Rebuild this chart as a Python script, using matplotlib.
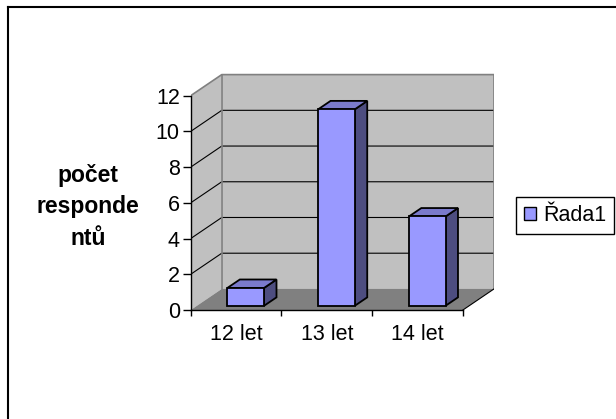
import matplotlib
matplotlib.use("Agg")
import matplotlib.pyplot as plt
from matplotlib.patches import Polygon, Patch
from matplotlib.lines import Line2D

plt.rcParams['font.family'] = ['Liberation Sans', 'DejaVu Sans']

# ---- data ----
categories = ['12 let', '13 let', '14 let']
values = [1, 11, 5]
yticks = [0, 2, 4, 6, 8, 10, 12]
series_name = 'Řada1'
y_label = 'počet\nresponde\nntů'

# ---- style / geometry constants ----
W, H = 616, 419
DEPTH_X, DEPTH_Y = 0.3424, 1.18     # oblique depth offset (category units, value units)
BAR_L, BAR_R = 0.336, 0.74          # bar extent inside a category
Z0, Z1 = 0.2, 0.6                   # bar depth extent (fraction of floor depth)
FRONT, TOP, SIDE = '#9999FF', '#7A7ACC', '#4D4D80'
WALL, FLOOR, WALL_EDGE = '#C0C0C0', '#808080', '#808080'

ncat = len(categories)
ymax = yticks[-1]


def P(x, y, z):
    return (x + z * DEPTH_X, y + z * DEPTH_Y)


fig = plt.figure(figsize=(W / 100, H / 100), dpi=100)
ax = fig.add_axes([190.7 / W, (H - 310) / H, (494 - 190.7) / W, (310 - 73) / H])
ax.set_xlim(0, ncat + DEPTH_X)
ax.set_ylim(0, (310 - 73) / 17.86)
ax.patch.set_visible(False)

# walls and floor
ax.add_patch(Polygon([P(0, 0, 0), P(0, ymax, 0), P(0, ymax, 1), P(0, 0, 1)],
                     closed=True, fc=WALL, ec='none', zorder=1))
ax.add_patch(Polygon([P(0, 0, 1), P(ncat, 0, 1), P(ncat, ymax, 1), P(0, ymax, 1)],
                     closed=True, fc=WALL, ec='none', zorder=1))
ax.add_patch(Polygon([P(0, 0, 0), P(ncat, 0, 0), P(ncat, 0, 1), P(0, 0, 1)],
                     closed=True, fc=FLOOR, ec='none', zorder=1))

# gridlines (left wall diagonal + back wall horizontal)
for k in yticks[1:-1]:
    pts = [P(0, k, 0), P(0, k, 1), P(ncat, k, 1)]
    ax.plot([p[0] for p in pts], [p[1] for p in pts], color='black', lw=0.8, zorder=1.5)

# wall edges
edge = [P(0, ymax, 0), P(0, ymax, 1), P(ncat, ymax, 1), P(ncat, 0, 1)]
ax.plot([p[0] for p in edge], [p[1] for p in edge], color=WALL_EDGE, lw=1.2, zorder=1.6)
corner = [P(0, ymax, 1), P(0, 0, 1)]
ax.plot([p[0] for p in corner], [p[1] for p in corner], color=WALL_EDGE, lw=1.2, zorder=1.6)
fedge = [P(ncat, 0, 0), P(ncat, 0, 1)]
ax.plot([p[0] for p in fedge], [p[1] for p in fedge], color='black', lw=0.8, zorder=1.6)

# bars
for i, v in enumerate(values):
    L, R = i + BAR_L, i + BAR_R
    front = [P(L, 0, Z0), P(R, 0, Z0), P(R, v, Z0), P(L, v, Z0)]
    top = [P(L, v, Z0), P(R, v, Z0), P(R, v, Z1), P(L, v, Z1)]
    side = [P(R, 0, Z0), P(R, 0, Z1), P(R, v, Z1), P(R, v, Z0)]
    for poly, c in ((side, SIDE), (top, TOP), (front, FRONT)):
        ax.add_patch(Polygon(poly, closed=True, fc=c, ec='black', lw=1.3,
                             joinstyle='miter', zorder=3))

# axes
for s in ('top', 'right'):
    ax.spines[s].set_visible(False)
ax.spines['left'].set_bounds(0, ymax)
ax.spines['bottom'].set_bounds(0, ncat)
ax.spines['left'].set_linewidth(1.0)
ax.spines['bottom'].set_linewidth(1.0)
ax.set_yticks(yticks)
ax.set_yticklabels([str(t) for t in yticks])
ax.tick_params(axis='y', direction='out', length=5.8, width=1.0, pad=2, labelsize=15.5)
ax.set_xticks(range(ncat + 1))
ax.set_xticklabels([])
ax.tick_params(axis='x', which='major', direction='out', length=4.5, width=1.0)
ax.set_xticks([i + 0.5 for i in range(ncat)], minor=True)
ax.set_xticklabels(categories, minor=True)
ax.tick_params(axis='x', which='minor', length=0, pad=10, labelsize=15.5)

# y label
fig.text(88 / W, 1 - 207 / H, y_label, ha='center', va='center', fontsize=16.5,
         fontweight='bold', linespacing=1.45, multialignment='center')

# legend
leg = fig.legend([Patch(fc=FRONT, ec='black', lw=1.0)], [series_name],
                 loc='center left', bbox_to_anchor=(516 / W, 1 - 215.5 / H),
                 fontsize=15.5, frameon=True, fancybox=False, framealpha=1,
                 edgecolor='black', handlelength=0.6, handleheight=0.6,
                 handletextpad=0.3, borderpad=0.35, borderaxespad=0)
leg.get_frame().set_linewidth(1.0)

# outer frame (only top and left edges visible in the image)
fig.add_artist(Line2D([7.5 / W, 7.5 / W], [0, 1 - 7.5 / H], transform=fig.transFigure,
                      color='black', lw=1.5))
fig.add_artist(Line2D([7.5 / W, 1], [1 - 7.5 / H, 1 - 7.5 / H], transform=fig.transFigure,
                      color='black', lw=1.5))

fig.savefig('out.png', dpi=100)
